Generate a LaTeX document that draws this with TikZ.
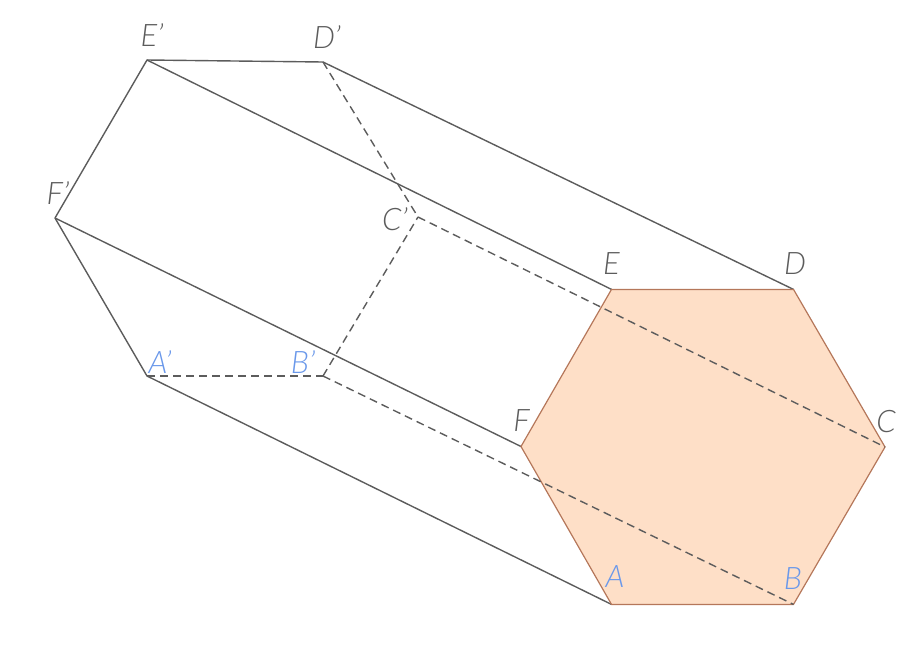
\documentclass[tikz,border=0pt]{standalone}
\usepackage{fontspec}
\setmainfont{Lato Light}[ItalicFont={Lato Light Italic}]
\definecolor{edgegray}{HTML}{5C5C5C}
\definecolor{hexfill}{HTML}{FEDFC7}
\definecolor{hexline}{HTML}{B5775A}
\definecolor{labblue}{HTML}{6A98EA}
\tikzset{
  x=1pt,y=-1pt,
  solidedge/.style={draw=edgegray,line width=1.4pt,line join=round},
  hiddenedge/.style={draw=edgegray,line width=1.4pt,dash pattern=on 8pt off 5pt},
  hexface/.style={fill=hexfill,draw=hexline,line width=1.2pt,line join=round},
  graylab/.style={text=edgegray,font=\fontsize{31}{31}\selectfont\itshape,inner sep=0pt},
  bluelab/.style={text=labblue,font=\fontsize{31}{31}\selectfont\itshape,inner sep=0pt}
}
\begin{document}
\begin{tikzpicture}
\useasboundingbox (0,0) rectangle (922,654);
\coordinate (A) at (611.5,604.4);
\coordinate (B) at (793.5,604.4);
\coordinate (C) at (885,447);
\coordinate (D) at (793.5,289.4);
\coordinate (E) at (611.5,289.4);
\coordinate (F) at (521,446.5);
\coordinate (A1) at (147,376);
\coordinate (B1) at (323,376);
\coordinate (C1) at (418,217);
\coordinate (D1) at (323,62);
\coordinate (E1) at (147,60);
\coordinate (F1) at (55,218);
\draw[solidedge] (F1) -- (E1) -- (D1) -- (D);
\draw[solidedge] (E1) -- (E);
\draw[solidedge] (F1) -- (F);
\draw[solidedge] (F1) -- (A1) -- (A);
\draw[hexface] (A) -- (B) -- (C) -- (D) -- (E) -- (F) -- cycle;
\draw[hiddenedge] (A1) -- (B1);
\draw[hiddenedge] (B1) -- (C1);
\draw[hiddenedge] (D1) -- (C1);
\draw[hiddenedge] (C1) -- (C);
\draw[hiddenedge] (B1) -- (B);
\node[graylab] (lE1) at (152,35) {E'};
\node[graylab] (lD1) at (327,37) {D'};
\node[graylab] (lF1) at (58,193) {F'};
\node[graylab] (lC1) at (395,219) {C'};
\node[bluelab] (lA1) at (160,362) {A'};
\node[bluelab] (lB1) at (303,362) {B'};
\node[graylab] (lE) at (611.5,264) {E};
\node[graylab] (lD) at (795,264) {D};
\node[graylab] (lF) at (521.5,421) {F};
\node[graylab] (lC) at (886,422) {C};
\node[bluelab] (lA) at (615,577) {A};
\node[bluelab] (lB) at (793,579) {B};
\end{tikzpicture}
\end{document}
